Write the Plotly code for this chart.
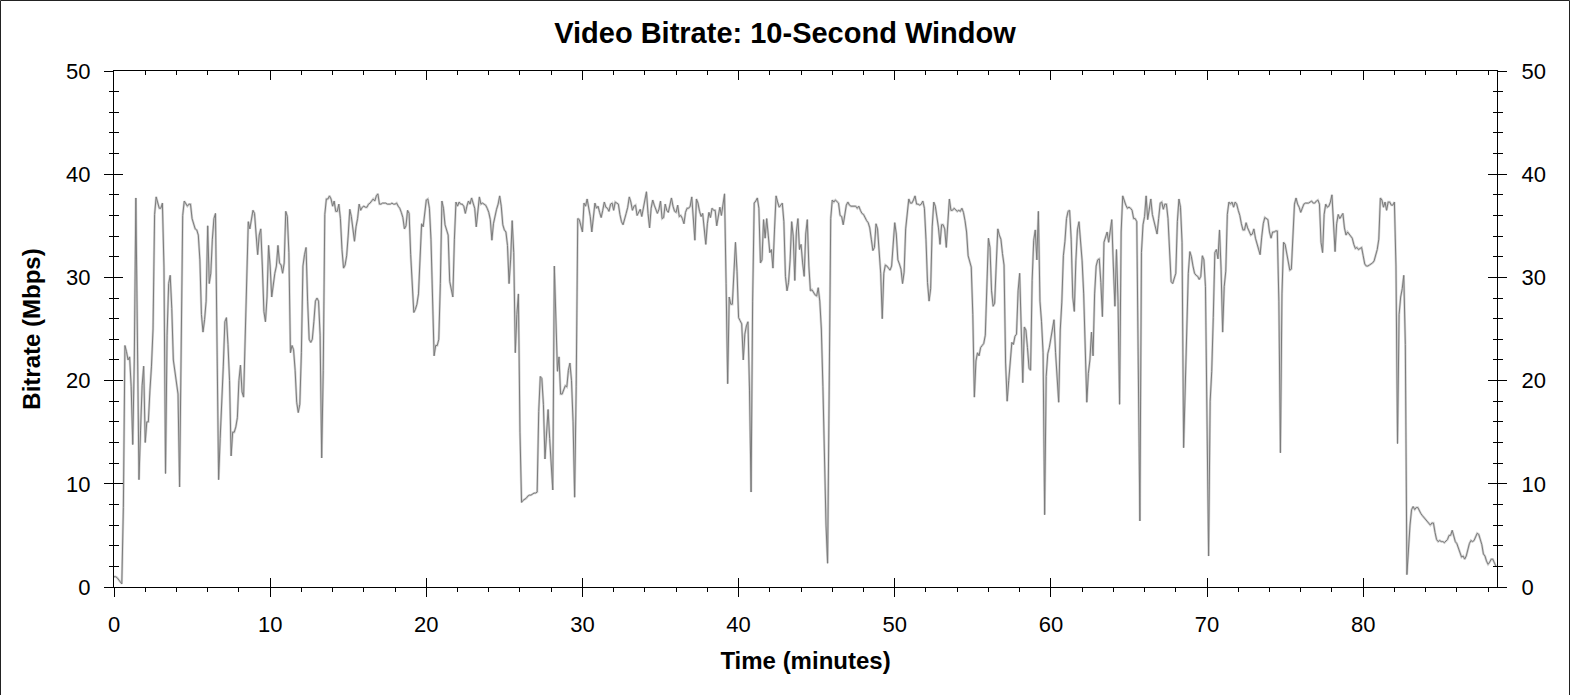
import plotly.graph_objects as go

TITLE = "Video Bitrate: 10-Second Window"
X_TITLE = "Time (minutes)"
Y_TITLE = "Bitrate (Mbps)"
SAMPLE_STEP_MIN = 0.1          # one reading every 6 seconds
X_TICKS = [0, 10, 20, 30, 40, 50, 60, 70, 80]
Y_TICKS = [0, 10, 20, 30, 40, 50]
X_MAX = 88.57
Y_MAX = 50

# Bitrate (Mbps), 0.0 - 14.4 min
seg_00_14 = [
    1.0, 1.0, 0.9, 0.7, 0.6, 0.3, 7.7, 23.4, 22.8, 22.0,
    22.3, 19.4, 13.8, 22.0, 37.7, 20.0, 10.4, 15.2, 19.5, 21.4,
    14.0, 16.0, 16.0, 19.0, 21.4, 25.0, 36.1, 37.8, 37.1, 36.7,
    36.7, 37.2, 31.0, 11.0, 24.4, 29.4, 30.2, 27.0, 22.0, 20.7,
    19.4, 18.7, 9.7, 22.7, 36.0, 37.4, 37.1, 36.9, 37.1, 37.1,
    35.7, 35.2, 34.7, 34.6, 34.1, 31.7, 26.4, 24.7, 25.9, 27.7,
    35.0, 29.4, 30.4, 33.7, 35.7, 36.2, 22.7, 10.4, 14.4, 19.0,
    21.4, 25.7, 26.1, 23.5, 20.0, 12.7, 15.0, 15.0, 15.5, 16.4,
    20.0, 21.5, 18.9, 18.4, 23.4, 29.4, 35.4, 34.7, 35.7, 36.5,
    36.2, 34.4, 32.2, 34.1, 34.7, 31.1, 26.7, 25.7, 28.1, 33.1,
    31.1, 28.1, 29.4, 30.4, 31.1, 33.1, 31.4, 31.2, 30.4, 31.4,
    36.4, 35.9, 32.4, 22.7, 23.4, 23.0, 21.0, 17.9, 16.9, 17.7,
    22.7, 31.1, 32.2, 32.9, 27.7, 24.0, 23.7, 24.0, 25.7, 27.7,
    28.0, 27.7, 24.4, 12.5, 21.0, 36.1, 37.6, 37.6, 37.9, 37.6,
    36.9, 37.4, 36.4, 36.4, 37.1,
]

# 14.5 - 29.2 min
seg_14_29 = [
    35.7, 32.7, 30.9, 31.2, 32.1, 34.1, 36.6, 35.9, 34.6, 33.5,
    34.9, 35.7, 37.1, 36.5, 36.8, 36.9, 36.8, 36.8, 37.1, 37.2,
    37.4, 37.6, 37.4, 37.9, 38.1, 37.1, 37.1, 37.2, 37.2, 37.2,
    37.1, 37.1, 37.1, 37.2, 37.1, 37.1, 37.2, 36.9, 36.7, 36.3,
    35.8, 34.7, 35.0, 36.5, 36.2, 32.2, 29.2, 26.6, 26.9, 27.4,
    28.4, 31.9, 35.2, 34.9, 36.5, 37.5, 37.6, 36.7, 33.7, 27.1,
    22.4, 23.4, 23.4, 24.0, 29.4, 37.4, 36.7, 35.1, 34.7, 34.1,
    29.6, 28.9, 28.1, 33.7, 37.3, 36.9, 37.3, 37.1, 37.1, 36.9,
    36.2, 36.9, 37.4, 37.1, 37.7, 37.2, 36.7, 34.9, 36.7, 37.8,
    37.1, 37.2, 37.1, 37.0, 36.7, 36.3, 35.6, 33.6, 35.2, 36.1,
    36.6, 37.1, 37.9, 36.9, 35.1, 34.6, 34.4, 33.1, 29.4, 31.7,
    35.5, 32.4, 22.7, 26.4, 28.4, 15.0, 8.2, 8.4, 8.5, 8.6,
    8.8, 8.9, 8.9, 9.0, 9.1, 9.1, 9.2, 17.0, 20.4, 20.2,
    17.7, 12.4, 14.4, 17.2, 14.4, 11.4, 9.4, 31.1, 26.1, 20.9,
    22.3, 18.7, 18.7, 19.2, 19.5, 19.4, 21.0, 21.7,
]

# 29.3 - 43.9 min
seg_29_43 = [
    20.0, 16.0, 8.7, 19.4, 35.7, 35.6, 35.0, 34.4, 37.2, 36.9,
    37.6, 36.7, 35.9, 34.4, 35.9, 37.2, 36.7, 36.9, 36.3, 35.8,
    36.5, 37.3, 36.8, 36.7, 36.4, 37.1, 37.2, 36.5, 37.3, 37.2,
    37.1, 36.1, 35.4, 35.1, 35.8, 36.2, 36.8, 37.8, 37.3, 36.5,
    36.9, 37.0, 36.0, 36.3, 36.6, 35.9, 36.7, 37.3, 38.3, 36.2,
    34.8, 36.7, 37.5, 37.0, 36.6, 36.2, 36.6, 37.4, 35.7, 35.8,
    37.1, 36.5, 36.3, 37.2, 37.7, 36.9, 36.4, 36.3, 37.0, 35.9,
    36.0, 35.7, 35.2, 36.3, 36.7, 36.7, 36.9, 37.8, 35.7, 33.6,
    37.6, 37.2, 36.4, 35.9, 36.2, 34.4, 33.2, 35.2, 36.3, 35.8,
    36.7, 36.5, 36.5, 35.0, 36.1, 36.8, 36.0, 37.2, 38.1, 29.4,
    19.7, 28.1, 27.4, 27.4, 31.1, 33.4, 30.6, 26.1, 25.8, 25.5,
    22.0, 24.5, 25.3, 25.7, 19.0, 9.2, 27.7, 37.2, 37.4, 37.7,
    36.7, 31.4, 31.7, 35.6, 33.8, 35.7, 34.1, 32.4, 32.7, 30.9,
    34.6, 37.9, 37.3, 36.8, 37.0, 37.2, 35.4, 30.1, 28.7, 29.5,
    31.7, 35.4, 34.0, 29.7, 34.4, 35.7, 32.7,
]

# 44.0 - 58.7 min
seg_44_58 = [
    33.2, 31.4, 30.1, 34.2, 35.6, 31.1, 28.7, 28.8, 28.5, 28.3,
    28.2, 29.0, 27.7, 25.0, 19.4, 12.4, 6.0, 2.3, 21.0, 35.7,
    37.5, 37.3, 37.5, 37.3, 37.2, 36.0, 35.9, 35.1, 36.1, 37.0,
    37.3, 37.0, 36.9, 36.9, 36.9, 36.9, 36.7, 36.9, 36.5, 36.2,
    36.1, 35.7, 35.5, 35.3, 34.8, 33.7, 32.6, 32.9, 35.2, 34.7,
    32.3, 30.4, 26.0, 30.4, 31.2, 31.1, 30.9, 30.7, 31.1, 32.9,
    35.3, 34.2, 31.7, 31.3, 30.8, 29.4, 30.5, 34.7, 36.5, 37.6,
    37.2, 37.2, 37.5, 37.9, 37.1, 37.1, 37.0, 37.1, 37.4, 36.7,
    33.7, 29.5, 27.7, 28.9, 34.9, 37.3, 36.9, 35.9, 34.8, 33.2,
    35.1, 35.1, 34.7, 32.9, 35.7, 37.6, 36.5, 36.5, 36.7, 36.5,
    36.4, 36.5, 36.4, 36.7, 36.3, 35.5, 34.4, 32.1, 31.6, 31.0,
    26.4, 18.4, 21.9, 22.7, 22.4, 23.2, 23.4, 23.6, 24.4, 29.1,
    33.8, 32.9, 28.7, 27.2, 27.5, 31.2, 34.7, 34.1, 33.7, 32.3,
    31.2, 21.7, 18.0, 20.0, 22.2, 23.7, 23.5, 24.3, 24.5, 28.7,
    30.4, 23.7, 19.8, 25.2, 24.9, 23.2, 21.2, 21.0,
]

# 58.8 - 73.4 min
seg_58_73 = [
    29.7, 33.6, 34.6, 31.7, 36.4, 27.7, 25.7, 22.7, 7.0, 20.4,
    22.6, 23.2, 24.0, 24.9, 25.9, 22.7, 19.9, 17.9, 24.9, 27.6,
    32.1, 33.5, 35.7, 36.4, 36.5, 33.7, 28.1, 26.7, 31.6, 34.6,
    35.4, 33.7, 31.6, 28.4, 22.0, 17.9, 20.7, 22.0, 24.7, 22.4,
    28.4, 31.1, 31.7, 31.8, 29.5, 26.2, 33.4, 33.9, 34.4, 33.4,
    34.7, 35.6, 31.1, 27.2, 32.7, 27.7, 17.7, 34.4, 37.9, 37.4,
    37.0, 36.7, 36.8, 36.7, 36.5, 35.7, 35.7, 35.4, 22.4, 6.4,
    32.4, 35.1, 35.9, 37.9, 35.6, 36.9, 37.6, 36.1, 35.4, 34.6,
    34.2, 35.7, 37.2, 37.3, 36.6, 37.1, 37.1, 35.7, 32.6, 29.6,
    29.4, 29.9, 30.4, 35.4, 37.6, 36.8, 33.4, 13.5, 18.5, 25.4,
    30.4, 32.5, 32.0, 31.1, 30.4, 30.2, 30.1, 29.8, 30.1, 32.1,
    31.7, 29.1, 13.7, 3.0, 18.0, 20.9, 26.1, 32.4, 32.7, 31.8,
    34.6, 30.8, 24.7, 29.1, 30.6, 36.1, 37.3, 37.1, 37.3, 36.8,
    37.3, 37.1, 36.5, 36.0, 35.2, 34.6, 34.6, 35.3, 34.8, 34.4,
    34.1, 34.2, 34.7, 33.8, 33.3, 32.8, 32.2,
]

# 73.5 - 88.5 min
seg_73_88 = [
    33.9, 35.2, 35.8, 35.7, 35.6, 34.4, 33.8, 34.4, 34.4, 34.5,
    34.5, 27.7, 13.0, 28.4, 33.4, 33.2, 32.3, 31.2, 30.7, 30.8,
    33.4, 37.1, 37.7, 37.1, 36.8, 36.3, 36.7, 37.1, 37.2, 37.2,
    37.2, 37.3, 37.4, 37.2, 37.2, 37.4, 37.5, 37.1, 33.4, 32.4,
    36.1, 37.1, 36.8, 36.9, 37.3, 38.0, 35.4, 32.5, 35.2, 36.1,
    35.7, 36.0, 36.2, 34.8, 34.1, 34.4, 34.2, 34.0, 33.8, 33.2,
    32.8, 32.9, 32.7, 32.8, 32.9, 32.1, 31.3, 31.1, 31.1, 31.2,
    31.3, 31.4, 31.6, 32.1, 32.7, 33.7, 37.7, 37.5, 36.8, 37.3,
    36.5, 37.3, 37.3, 37.0, 37.0, 37.3, 31.1, 13.9, 26.4, 28.1,
    28.9, 30.2, 23.5, 1.2, 4.3, 6.0, 7.5, 7.8, 7.5, 7.7,
    7.7, 7.3, 7.1, 6.9, 6.7, 6.6, 6.4, 6.2, 6.0, 6.2,
    6.2, 5.3, 4.6, 4.4, 4.5, 4.4, 4.4, 4.3, 4.5, 4.6,
    5.0, 5.0, 5.5, 4.8, 4.4, 4.2, 3.7, 3.3, 2.9, 3.0,
    2.7, 3.0, 3.6, 4.2, 4.5, 4.4, 4.5, 4.9, 5.2, 5.1,
    4.6, 4.1, 3.2, 3.0, 2.5, 2.2, 2.4, 2.7, 2.7, 2.3,
    2.0,
]

bitrate = seg_00_14 + seg_14_29 + seg_29_43 + seg_44_58 + seg_58_73 + seg_73_88
time_min = [round(i * SAMPLE_STEP_MIN, 1) for i in range(len(bitrate))]

W, H = 1570, 695
M_L, M_R, M_T, M_B = 114, 73, 71, 108
FONT = "Liberation Sans, Arial, sans-serif"

fig = go.Figure()
fig.add_trace(go.Scatter(x=time_min, y=bitrate, mode="lines",
                         line=dict(color="#d2d2d2", width=2.4),
                         hoverinfo="skip", showlegend=False))
fig.add_trace(go.Scatter(x=time_min, y=bitrate, mode="lines",
                         line=dict(color="#7b7b7b", width=1.0),
                         showlegend=False, name="Bitrate"))
# empty helper traces so the decorative tick axes are registered
for xa, ya in [("x2", "y"), ("x3", "y"), ("x", "y2"), ("x", "y3"), ("x", "y4")]:
    fig.add_trace(go.Scatter(x=[], y=[], xaxis=xa, yaxis=ya,
                             showlegend=False, hoverinfo="skip"))

tickfont = dict(family=FONT, size=22, color="black")
common_x = dict(range=[0, X_MAX], tickmode="array", tickvals=X_TICKS,
                showgrid=False, zeroline=False, tickcolor="black",
                tickwidth=1, linecolor="black", linewidth=1)
common_y = dict(range=[0, Y_MAX], tickmode="array", tickvals=Y_TICKS,
                showgrid=False, zeroline=False, tickcolor="black",
                tickwidth=1, linecolor="black", linewidth=1)

fig.update_layout(
    width=W, height=H,
    margin=dict(l=M_L, r=M_R, t=M_T, b=M_B, pad=0),
    paper_bgcolor="white", plot_bgcolor="white",
    font=dict(family=FONT, color="black"),
    title=dict(text="<b>" + TITLE + "</b>", x=0.5, xref="container",
               xanchor="center", y=1 - 33 / H, yref="container",
               yanchor="middle", font=dict(family=FONT, size=29, color="black")),
    xaxis=dict(**common_x, showline=True, ticks="outside", ticklen=9,
               minor=dict(ticks="outside", ticklen=4, dtick=2, tick0=0,
                          tickcolor="black", tickwidth=1, showgrid=False),
               tickfont=tickfont, ticklabelstandoff=9,
               title=dict(text="<b>" + X_TITLE + "</b>", standoff=15,
                          font=dict(family=FONT, size=24, color="black"))),
    xaxis2=dict(**common_x, overlaying="x", side="top", anchor="y",
                showline=True, ticks="inside", ticklen=9,
                minor=dict(ticks="inside", ticklen=4, dtick=2, tick0=0,
                           tickcolor="black", tickwidth=1, showgrid=False),
                showticklabels=False),
    xaxis3=dict(**common_x, overlaying="x", side="bottom", anchor="y",
                showline=False, ticks="inside", ticklen=9,
                showticklabels=False),
    yaxis=dict(**common_y, showline=True, ticks="outside", ticklen=9,
               minor=dict(ticks="outside", ticklen=4.5, dtick=2, tick0=0,
                          tickcolor="black", tickwidth=1, showgrid=False),
               tickfont=tickfont, ticklabelstandoff=9,
               title=dict(text="<b>" + Y_TITLE + "</b>", standoff=18,
                          font=dict(family=FONT, size=24, color="black"))),
    yaxis2=dict(**common_y, overlaying="y", side="right", anchor="x",
                showline=True, ticks="outside", ticklen=9,
                minor=dict(ticks="outside", ticklen=4.5, dtick=2, tick0=0,
                           tickcolor="black", tickwidth=1, showgrid=False),
                tickfont=tickfont, ticklabelstandoff=10),
    yaxis3=dict(**common_y, overlaying="y", side="left", anchor="x",
                showline=False, ticks="inside", ticklen=9,
                minor=dict(ticks="inside", ticklen=4.5, dtick=2, tick0=0,
                           tickcolor="black", tickwidth=1, showgrid=False),
                showticklabels=False),
    yaxis4=dict(**common_y, overlaying="y", side="right", anchor="x",
                showline=False, ticks="inside", ticklen=9,
                minor=dict(ticks="inside", ticklen=4.5, dtick=2, tick0=0,
                           tickcolor="black", tickwidth=1, showgrid=False),
                showticklabels=False),
    showlegend=False,
)

# thin frame around the whole image
pw, ph = W - M_L - M_R, H - M_T - M_B
fig.add_shape(type="rect", xref="paper", yref="paper",
              x0=(0.5 - M_L) / pw, x1=(W - 0.5 - M_L) / pw,
              y0=(M_B - H + 0.5) / ph, y1=(H - M_B - 0.5) / ph,
              line=dict(color="#222222", width=1), layer="above")

fig.write_html("out.html", config={"displayModeBar": False},
               post_script="document.body.style.margin='0';document.body.style.overflow='hidden';")
